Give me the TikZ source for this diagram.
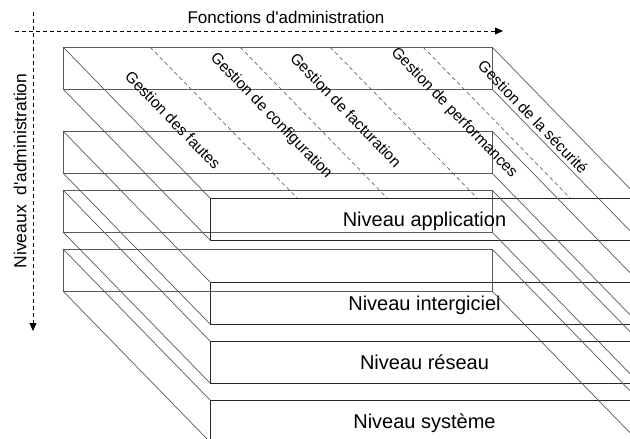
\documentclass[tikz,border=0pt]{standalone}
\usepackage{fontspec}
\setmainfont{Liberation Sans}
\usetikzlibrary{calc,arrows.meta}

\tikzset{
  backface/.style={draw=black!65, line width=0.8pt, minimum width=429pt, minimum height=42pt,
    inner sep=0pt, outer sep=0pt, anchor=north west},
  frontface/.style={draw=black!85, line width=0.8pt, minimum width=429pt, minimum height=42pt,
    inner sep=0pt, outer sep=0pt, anchor=north west, text height=14pt, text depth=0pt,
    font=\fontsize{20}{24}\selectfont},
  edge/.style={draw=black!65, line width=0.7pt},
  column/.style={draw=black!60, line width=0.7pt, dash pattern=on 4pt off 3pt},
  axis/.style={line width=0.8pt, dash pattern=on 4pt off 3pt, -{Triangle[length=8pt,width=7pt]}},
  gestion/.style={rotate=-46, font=\fontsize{15.5}{18}\selectfont, inner sep=0pt}
}

\begin{document}
\begin{tikzpicture}[x=1pt,y=-1pt]
    \path[use as bounding box, clip] (0,0) rectangle (630,439);

    % Axes
    \coordinate (hstart) at (15,31);
    \coordinate (hend) at (503,31);
    \coordinate (vstart) at (33,12);
    \coordinate (vend) at (33,331);
    \draw[axis] (hstart) -- (hend);
    \draw[axis] (vstart) -- (vend);
    \node[font=\fontsize{17}{20}\selectfont] (fonctions) at (286,17) {Fonctions d\textquotesingle administration};
    \node[font=\fontsize{17.5}{20}\selectfont, rotate=90] (niveaux) at (20,171)
        {Niveaux\hspace{0.55em}d\textquotesingle administration};

    % Back faces of the slabs
    \foreach \n/\y in {1/47, 2/131, 3/190, 4/249}
        \node[backface] (b\n) at (63,\y) {};

    % Front faces of the slabs (offset 147,151)
    \node[frontface] (f1) at (210,198) {Niveau application};
    \node[frontface] (f2) at (210,282) {Niveau intergiciel};
    \node[frontface] (f3) at (210,341) {Niveau réseau};
    \node[frontface] (f4) at (210,400) {Niveau système};

    % Depth edges
    \foreach \n in {1,2,3,4}
        \foreach \a in {north west, south west, north east, south east}
            \draw[edge] (b\n.\a) -- (f\n.\a);

    % Columns on the top face
    \foreach \d in {87, 177, 267, 360}
        \draw[column] ($(b1.north west)+(\d,0)$) -- ($(f1.north west)+(\d,0)$);

    % Labels
    \node[gestion] (fautes) at (173,120) {Gestion des fautes};
    \node[gestion] (config) at (271,116) {Gestion de configuration};
    \node[gestion] (factu) at (346,110) {Gestion de facturation};
    \node[gestion] (perf) at (454,113) {Gestion de performances};
    \node[gestion] (secu) at (533,117) {Gestion de la sécurité};
\end{tikzpicture}
\end{document}
